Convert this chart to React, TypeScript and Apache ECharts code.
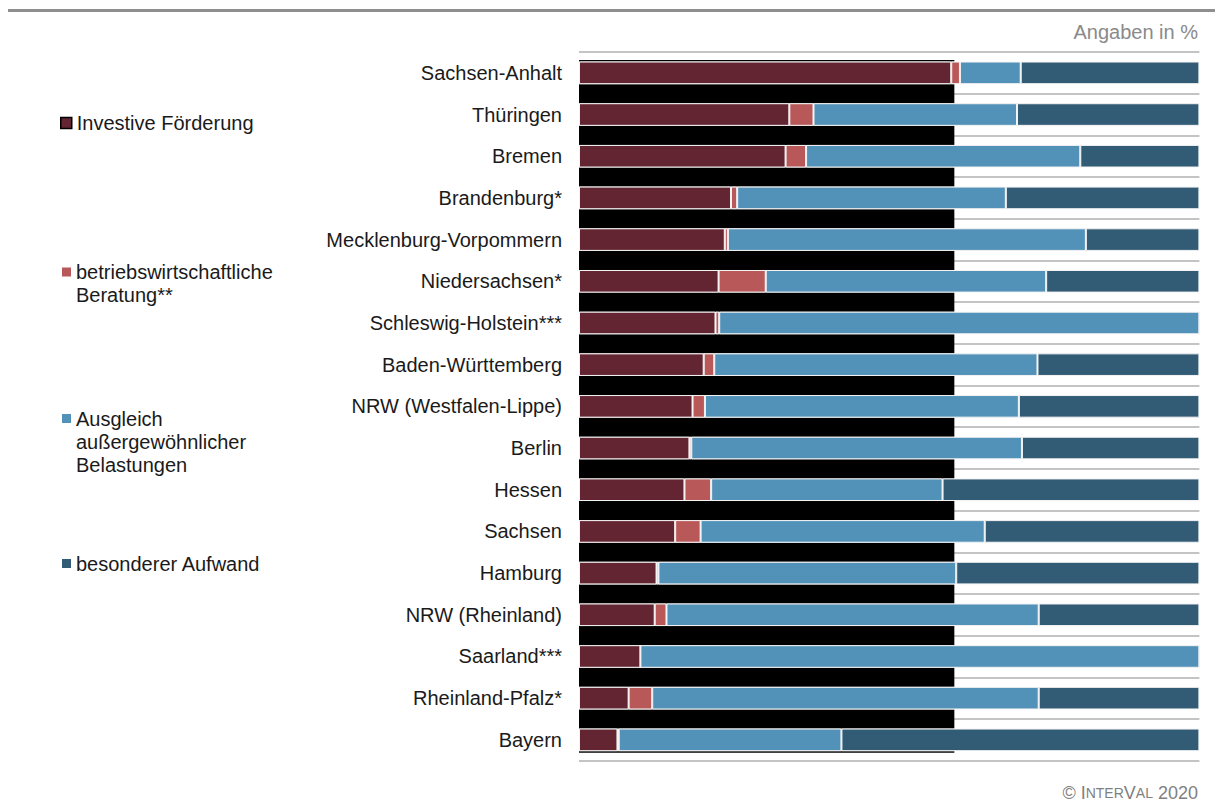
import React, { useEffect, useRef } from "react";
import * as echarts from "echarts";

// Bundesländer, top to bottom
const categories = [
  "Sachsen-Anhalt",
  "Thüringen",
  "Bremen",
  "Brandenburg*",
  "Mecklenburg-Vorpommern",
  "Niedersachsen*",
  "Schleswig-Holstein***",
  "Baden-Württemberg",
  "NRW (Westfalen-Lippe)",
  "Berlin",
  "Hessen",
  "Sachsen",
  "Hamburg",
  "NRW (Rheinland)",
  "Saarland***",
  "Rheinland-Pfalz*",
  "Bayern",
];

// Shares in percent
const investive = [60.0, 33.9, 33.3, 24.5, 23.5, 22.5, 22.0, 20.1, 18.3, 17.8, 17.0, 15.5, 12.5, 12.2, 9.9, 8.0, 6.2];
const beratung = [1.4, 3.9, 3.3, 1.0, 0.5, 7.6, 0.6, 1.7, 2.0, 0.3, 4.3, 4.1, 0.3, 1.9, 0, 3.8, 0.2];
const ausgleich = [9.8, 32.8, 44.2, 43.3, 57.7, 45.2, 77.4, 52.1, 50.6, 53.3, 37.3, 45.8, 48.0, 60.0, 90.1, 62.3, 35.9];
const aufwand = [28.8, 29.4, 19.2, 31.2, 18.3, 24.7, 0, 26.1, 29.1, 28.6, 41.4, 34.6, 39.2, 25.9, 0, 25.9, 57.7];

// Black separator band above each row (and below the last one)
const separatorBand = [60.5, 60.5, 60.5, 60.5, 60.5, 60.5, 60.5, 60.5, 60.5, 60.5, 60.5, 60.5, 60.5, 60.5, 60.5, 60.5, 60.5];

const seriesNames = [
  "Investive Förderung",
  "betriebswirtschaftliche\nBeratung**",
  "Ausgleich\naußergewöhnlicher\nBelastungen",
  "besonderer Aufwand",
];
const seriesColors = ["#642532", "#B95858", "#5291B8", "#325B75"];

const FONT = "'Liberation Sans', Arial, sans-serif";
const FONT_SIZE = 20;
const BAR_W = 22.6;
const EDGE = 1.5;
const LINE_H = 23;

export default function App() {
  const ref = useRef<HTMLDivElement>(null);

  useEffect(() => {
    if (!ref.current) return;
    const chart = echarts.init(ref.current, null, { renderer: "svg" });
    const last = categories.length - 1;

    const barSeries = [investive, beratung, ausgleich, aufwand].map((vals, i) => ({
      name: seriesNames[i],
      type: "bar",
      stack: "total",
      barWidth: BAR_W,
      z: 3,
      itemStyle: { color: seriesColors[i], borderColor: "#f3f3f3", borderWidth: 1 },
      data: vals,
    }));

    // Each legend entry is its own block; blank leading lines keep the
    // swatch level with the first line of a multi-line label.
    const legendTops = [111.5, 237.5, 361, 552];
    const legends = seriesNames.map((name, i) => {
      const lines = name.split("\n").length;
      return {
        data: [name],
        orient: "vertical",
        left: i === 0 ? 60 : 62,
        top: legendTops[i],
        padding: 0,
        selectedMode: false,
        icon: "rect",
        itemWidth: i === 0 ? 11 : 9,
        itemHeight: i === 0 ? 11 : 9,
        itemStyle: i === 0 ? { borderColor: "#000000", borderWidth: 1.5 } : { borderWidth: 0 },
        formatter: (n: string) => "\n".repeat(lines - 1) + n,
        textStyle: {
          fontFamily: FONT,
          fontSize: FONT_SIZE,
          color: "#1a1a1a",
          lineHeight: LINE_H,
        },
      };
    });

    chart.setOption({
      animation: false,
      backgroundColor: "#ffffff",
      textStyle: { fontFamily: FONT },
      legend: legends,
      grid: { left: 579, top: 52, width: 620.4, height: 708.7, containLabel: false },
      xAxis: {
        type: "value",
        min: 0,
        max: 100,
        show: false,
      },
      yAxis: {
        type: "category",
        inverse: true,
        data: categories,
        axisLine: { show: false },
        axisTick: { show: false },
        axisLabel: { fontFamily: FONT, fontSize: FONT_SIZE, color: "#1a1a1a", margin: 17 },
        splitLine: { show: true, lineStyle: { color: "#b0b0b0", width: 1.6 } },
      },
      graphic: [
        { type: "rect", shape: { x: 8, y: 9, width: 1207, height: 3 }, style: { fill: "#8f8f8f" } },
        {
          type: "text",
          x: 1198,
          y: 32,
          style: {
            text: "Angaben in %",
            font: `${FONT_SIZE}px ${FONT}`,
            fill: "#8a8a8a",
            align: "right",
            verticalAlign: "middle",
          },
        },
        {
          type: "text",
          x: 1198,
          y: 793,
          style: {
            text: "{a|© I}{b|NTER}{a|V}{b|AL}{a| 2020}",
            align: "right",
            verticalAlign: "middle",
            rich: {
              a: { fontFamily: FONT, fontSize: 18, fill: "#808080" },
              b: { fontFamily: FONT, fontSize: 14, fill: "#808080" },
            },
          },
        },
      ],
      series: [
        {
          name: "separator",
          type: "custom",
          z: 2,
          silent: true,
          data: separatorBand.map((v, i) => [v, i]),
          encode: { x: 0, y: 1 },
          renderItem: (_params: any, api: any) => {
            const i = api.value(1) as number;
            const v = api.value(0) as number;
            const [x0, yc] = api.coord([0, i]);
            const x1 = api.coord([v, i])[0];
            const step = api.size([0, 1])[1];
            const gap = step - BAR_W;
            const w = x1 - x0;
            const style = { fill: "#000000" };
            const children: any[] = [];
            if (i === 0) {
              children.push({ type: "rect", shape: { x: x0, y: yc - BAR_W / 2 - EDGE, width: w, height: EDGE }, style });
            } else {
              children.push({ type: "rect", shape: { x: x0, y: yc - step / 2 - gap / 2, width: w, height: gap }, style });
            }
            if (i === last) {
              children.push({ type: "rect", shape: { x: x0, y: yc + BAR_W / 2, width: w, height: EDGE }, style });
            }
            return { type: "group", children };
          },
        },
        ...barSeries,
      ],
    });

    return () => chart.dispose();
  }, []);

  return (
    <div
      ref={ref}
      style={{ position: "fixed", left: 0, top: 0, width: 1215, height: 808, background: "#fff" }}
    />
  );
}
